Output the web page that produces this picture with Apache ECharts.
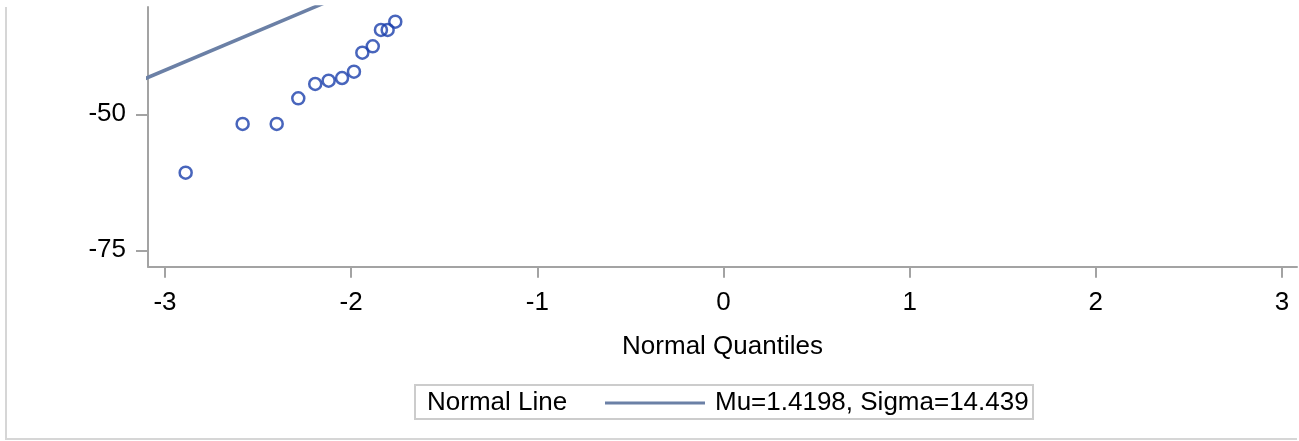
<!DOCTYPE html>
<html>
<head>
<meta charset="utf-8">
<script src="https://cdn.jsdelivr.net/npm/echarts@6/dist/echarts.min.js"></script>
<style>
  html, body { margin: 0; padding: 0; background: #fff; }
  #chart { width: 1299px; height: 441px; }
</style>
</head>
<body>
<div id="chart"></div>
<script>
// ---- data ----
const normalQuantiles = [-2.889, -2.583, -2.400, -2.284, -2.193, -2.121, -2.049, -1.985, -1.940, -1.884, -1.840, -1.804, -1.763];
const observedValues  = [-60.74, -51.78, -51.78, -47.06, -44.43, -43.82, -43.33, -42.17, -38.68, -37.50, -34.50, -34.50, -32.98];
const xTickValues = [-3, -2, -1, 0, 1, 2, 3];
const yTickValues = [-75, -50];
const mu = 1.4198;
const sigma = 14.439;
const lineEnds = [-3.2, 3.2];
const legendTitle = 'Normal Line';
const legendLabel = 'Mu=1.4198, Sigma=14.439';
const xTitle = 'Normal Quantiles';

const FONT = '"Liberation Sans", Arial, sans-serif';
const AXIS_COLOR = '#a3a3a3';

const chart = echarts.init(document.getElementById('chart'), null, { renderer: 'canvas' });

const scatterData = normalQuantiles.map((q, i) => [q, observedValues[i]]);
const lineData = lineEnds.map(q => [q, mu + sigma * q]);

chart.setOption({
  animation: false,
  backgroundColor: '#fff',
  grid: { left: 148, right: 2, top: 7, bottom: 174.3, containLabel: false },
  xAxis: {
    type: 'value',
    min: -3.0913,
    max: 3.0806,
    name: xTitle,
    nameLocation: 'middle',
    nameGap: 67,
    nameTextStyle: { fontFamily: FONT, fontSize: 26, color: '#000' },
    axisLine: { show: true, onZero: false, lineStyle: { color: AXIS_COLOR, width: 2 } },
    axisTick: { show: true, length: 11, customValues: xTickValues, lineStyle: { color: AXIS_COLOR, width: 2 } },
    axisLabel: { customValues: xTickValues, margin: 23, fontFamily: FONT, fontSize: 26, color: '#000' },
    splitLine: { show: false }
  },
  yAxis: {
    type: 'value',
    min: -78.01,
    max: -30.28,
    axisLine: { show: true, onZero: false, lineStyle: { color: AXIS_COLOR, width: 2 } },
    axisTick: { show: true, length: 12, customValues: yTickValues, lineStyle: { color: AXIS_COLOR, width: 2 } },
    axisLabel: { customValues: yTickValues, margin: 22, fontFamily: FONT, fontSize: 26, color: '#000' },
    splitLine: { show: false }
  },
  legend: {
    data: [legendLabel],
    left: 605,
    top: 390,
    padding: 0,
    icon: 'rect',
    itemWidth: 100,
    itemHeight: 3,
    itemStyle: { color: '#6b80a6' },
    textStyle: { fontFamily: FONT, fontSize: 26, color: '#000', padding: [0, 0, 0, 5] },
    selectedMode: false
  },
  graphic: [
    {
      type: 'polyline',
      shape: { points: [[6, 7], [6, 439], [1297, 439]] },
      style: { stroke: '#d6d6d6', lineWidth: 2, fill: null },
      silent: true
    },
    {
      type: 'rect',
      shape: { x: 415, y: 385, width: 618, height: 34 },
      style: { stroke: '#cccccc', lineWidth: 2, fill: null },
      silent: true
    },
    {
      type: 'text',
      x: 427,
      y: 403,
      style: { text: legendTitle, font: '26px ' + FONT, fill: '#000', align: 'left', verticalAlign: 'middle' },
      silent: true
    }
  ],
  series: [
    {
      name: legendLabel,
      type: 'line',
      data: lineData,
      clip: true,
      showSymbol: false,
      symbol: 'none',
      lineStyle: { color: '#6b80a6', width: 3.5 },
      itemStyle: { color: '#6b80a6' },
      silent: true,
      z: 2
    },
    {
      name: 'Observed',
      type: 'scatter',
      data: scatterData,
      symbol: 'circle',
      symbolSize: 12,
      itemStyle: { color: 'rgba(255,255,255,0)', borderColor: '#1a3fab', borderWidth: 2.5 },
      silent: true,
      z: 3
    }
  ]
});
</script>
</body>
</html>
